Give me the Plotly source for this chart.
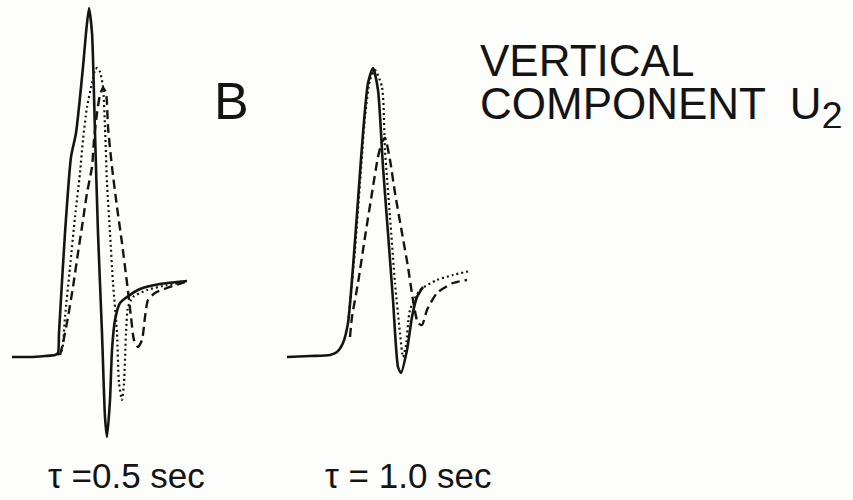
import plotly.graph_objects as go

# ---- data (time in arbitrary units, amplitude relative to baseline) ----
# Panel tau = 0.5 sec
t05_solid = [12, 30, 45, 55, 58, 59, 65, 71, 76, 83, 86, 89, 92, 95, 98, 102, 105, 107, 110, 112, 115, 120, 127, 140, 160, 187]
a05_solid = [0, 0, 1, 2, 4, 24, 124, 200, 224, 290, 324, 349, 324, 224, 124, 24, -60, -80, -43, 7, 37, 54, 60, 68, 73, 76]

t05_dot = [58, 62, 65, 70, 75, 80, 83, 87, 92, 95, 97, 100, 103, 105, 107, 110, 113, 117, 119, 122, 124, 126, 128, 133, 147, 163, 180]
a05_dot = [2, 7, 40, 90, 140, 184, 217, 250, 274, 287, 289, 285, 270, 230, 174, 124, 74, 24, -26, -43, -26, 24, 50, 60, 67, 71, 74]

t05_dash = [60, 63, 68, 73, 78, 83, 87, 92, 94, 97, 100, 103, 106, 108, 112, 117, 122, 127, 131, 134, 138, 142, 145, 148, 155, 167, 185]
a05_dash = [2, 14, 40, 70, 104, 137, 164, 190, 217, 244, 262, 269, 264, 230, 190, 150, 114, 74, 40, 17, 10, 17, 40, 57, 64, 69, 75]

# Panel tau = 1.0 sec
t10_solid = [287, 310, 330, 337, 343, 348, 353, 358, 363, 368, 373, 378, 383, 388, 393, 398, 401, 407, 412, 417, 423]
a10_solid = [0, 1, 2, 5, 14, 34, 90, 157, 224, 274, 289, 267, 190, 124, 57, -10, -16, 7, 40, 60, 70]

t10_dot = [348, 355, 360, 365, 370, 375, 382, 385, 390, 395, 400, 403, 406, 410, 420, 437, 453, 470]
a10_dot = [34, 107, 174, 240, 277, 287, 270, 207, 140, 74, 24, 0, 12, 47, 67, 77, 82, 86]

t10_dash = [350, 352, 358, 365, 372, 378, 382, 385, 390, 395, 402, 408, 413, 418, 422, 427, 437, 453, 467]
a10_dash = [20, 40, 74, 120, 164, 200, 215, 219, 197, 164, 124, 90, 57, 34, 32, 47, 64, 74, 77]

panel_labels = ["\u03c4 =0.5 sec", "\u03c4 = 1.0 sec"]
letter = "B"
title_lines = ["VERTICAL", "COMPONENT \u00a0U<sub><span style='font-size:38px'>2</span></sub>"]

INK = "#141414"
fig = go.Figure()

def add(t, a, dash, width):
    fig.add_trace(go.Scatter(x=t, y=a, mode="lines",
                             line=dict(color=INK, width=width, dash=dash, shape="spline", smoothing=0.6),
                             hoverinfo="skip", showlegend=False))

add(t05_solid, a05_solid, "solid", 2.6)
add(t05_dot, a05_dot, "2px,3px", 2.2)
add(t05_dash, a05_dash, "9px,5px", 2.4)
add(t10_solid, a10_solid, "solid", 2.6)
add(t10_dot, a10_dot, "2px,3px", 2.2)
add(t10_dash, a10_dash, "9px,5px", 2.4)

W, H = 853, 500
BASE = 357  # baseline pixel row

def px(x):
    return x / W

def py(y):
    return 1 - y / H

FONT = "Liberation Sans"
ann = []
ann.append(dict(x=px(231), y=py(100.5), text=letter, font=dict(size=52, color=INK, family=FONT)))
ann.append(dict(x=px(478), y=py(60), text=title_lines[0], xanchor="left", height=40,
                font=dict(size=44, color=INK, family=FONT)))
ann.append(dict(x=px(478), y=py(108.5), text=title_lines[1], xanchor="left", height=40,
                font=dict(size=44, color=INK, family=FONT)))
ann.append(dict(x=px(46), y=py(475.5), text=panel_labels[0], xanchor="left", font=dict(size=35, color=INK, family=FONT)))
ann.append(dict(x=px(323), y=py(475.5), text=panel_labels[1], xanchor="left", font=dict(size=35, color=INK, family=FONT)))
for a in ann:
    a.update(xref="paper", yref="paper", showarrow=False, yanchor="middle")
    a.setdefault("xanchor", "center")

fig.update_layout(
    width=W, height=H,
    margin=dict(l=0, r=0, t=0, b=0),
    paper_bgcolor="#fdfdfb", plot_bgcolor="#fdfdfb",
    xaxis=dict(range=[0, W], visible=False, fixedrange=True),
    yaxis=dict(range=[BASE - H, BASE], visible=False, fixedrange=True),
    annotations=ann,
)

fig.write_html("out.html", config={"displayModeBar": False},
               post_script="document.body.style.margin='0';document.body.style.overflow='hidden';")
